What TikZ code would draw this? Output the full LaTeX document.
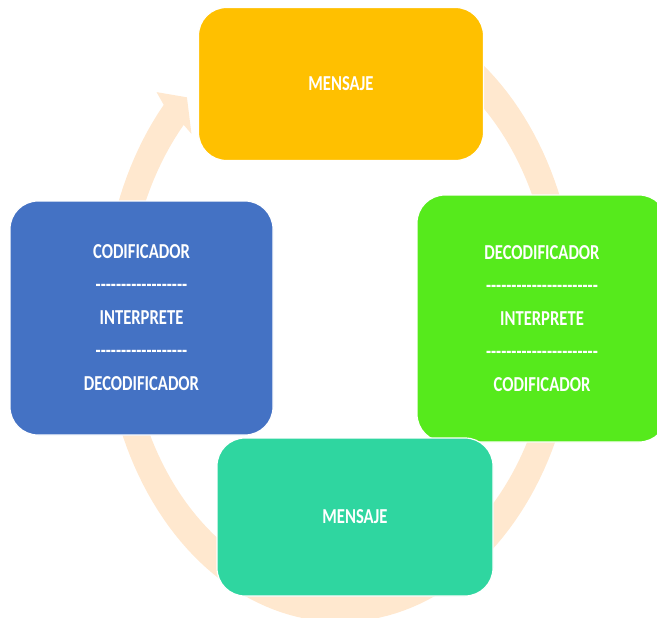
\documentclass[tikz,border=0pt]{standalone}
\usepackage{fontspec}
\newfontfamily\lbl[FakeStretch=0.78]{Carlito}
\definecolor{ringc}{HTML}{FFE8CF}
\definecolor{yel}{HTML}{FFC000}
\definecolor{blu}{HTML}{4472C4}
\definecolor{grn}{HTML}{56EA1C}
\definecolor{tea}{HTML}{2FD6A0}
\newcommand\dd{-\kern0pt}
\newcommand\dashesA{\dd\dd\dd\dd\dd\dd\dd\dd\dd\dd\dd\dd\dd\dd\dd\dd\dd\dd}
\newcommand\dashesB{\dd\dd\dd\dd\dd\dd\dd\dd\dd\dd\dd\dd\dd\dd\dd\dd\dd\dd\dd\dd\dd\dd}
\begin{document}
\begin{tikzpicture}[x=1pt,y=-1pt,
  box/.style={draw=white, line width=1.2pt, rounded corners=28pt, text=white,
    font=\lbl\bfseries\fontsize{21.3}{33}\selectfont, align=center, inner sep=0pt},
  ring/.style={fill=ringc}]
\useasboundingbox (0,0) rectangle (657,618);
% circular arrow
\fill[ring]
  plot[domain=0:1,samples=150] ({340+237*cos(75-297.5*\x)},{312-310*sin(75-297.5*\x)})
  -- ({340+1.05*237*cos(-222.5)},{312-1.05*310*sin(-222.5)})
  -- ({340+0.947*237*cos(-227)},{312-0.947*310*sin(-227)})
  -- ({340+0.85*237*cos(-222.5)},{312-0.85*310*sin(-222.5)})
  -- plot[domain=0:1,samples=150] ({340+212*cos(-222.5+297.5*\x)},{312-277*sin(-222.5+297.5*\x)})
  -- cycle;
\node[box, fill=yel, minimum width=285pt, minimum height=153pt] (top) at (341,84) {MENSAJE};
\node[box, fill=blu, minimum width=263pt, minimum height=234pt] (left) at (141.5,318)
  {CODIFICADOR\\\dashesA\\INTERPRETE\\\dashesA\\DECODIFICADOR};
\node[box, fill=grn, minimum width=250pt, minimum height=247pt] (right) at (542,318.5)
  {DECODIFICADOR\\\dashesB\\INTERPRETE\\\dashesB\\CODIFICADOR};
\node[box, fill=tea, minimum width=276pt, minimum height=158pt] (bottom) at (355,517) {MENSAJE};
\end{tikzpicture}
\end{document}
